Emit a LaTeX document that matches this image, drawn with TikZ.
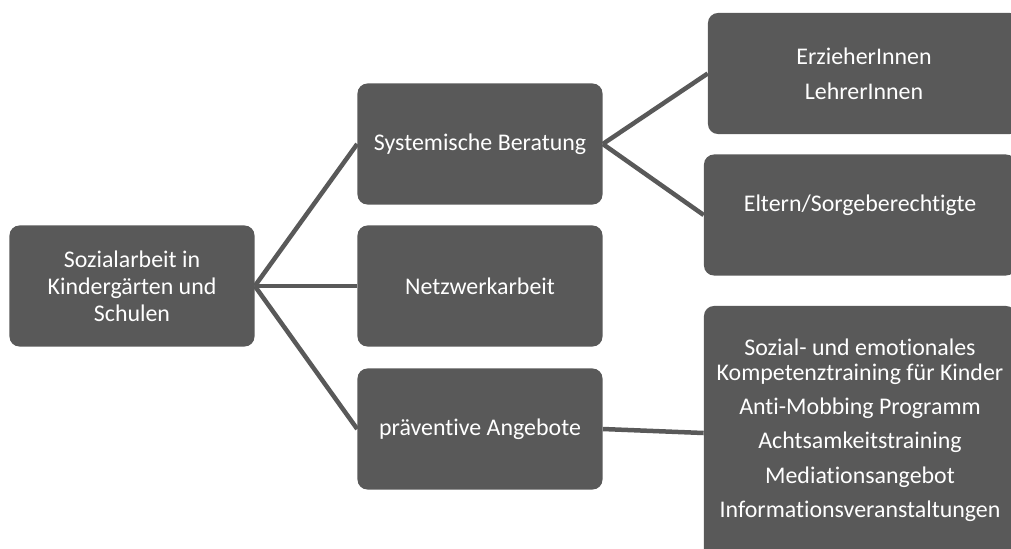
\documentclass[tikz,border=0pt]{standalone}
\usepackage{fontspec}
\setmainfont[Ligatures=NoCommon]{Carlito}
\usepackage{xcolor}
\usepackage{tikz}
\usetikzlibrary{positioning}
\definecolor{boxgray}{HTML}{595959}

\begin{document}
\begin{tikzpicture}[
  x=0.025cm, y=-0.025cm,
  font=\fontsize{17}{19.3}\selectfont,
  box/.style={fill=boxgray,text=white,rounded corners=0.25cm,minimum width=6.125cm,minimum height=3.025cm,align=center,inner sep=2pt},
  leaf/.style={box,minimum width=7.8cm},
  link/.style={draw=boxgray,line width=3.2pt}
]
\useasboundingbox (0,0) rectangle (1011,548);
\clip (0,0) rectangle (1011,548);
% first level
\node[box] (root) at (132,286) {Sozialarbeit in\\Kindergärten und\\Schulen};
\node[box] (sys) at (480,144) {Systemische Beratung};
\node[box] (netz) at (480,286) {Netzwerkarbeit};
\node[box] (prae) at (480,429) {präventive Angebote};
% second level
\node[leaf] (erz) at (864,73.5) {ErzieherInnen\\[0.2cm]LehrerInnen};
\node[leaf,text depth=0.6cm] (elt) at (860,215) {Eltern/Sorgeberechtigte};
\node[leaf,minimum height=6.35cm,text depth=0.25cm] (ang) at (860,433) {Sozial- und emotionales\\[-0.05cm]Kompetenztraining für Kinder\\[0.18cm]Anti-Mobbing Programm\\[0.18cm]Achtsamkeitstraining\\[0.18cm]Mediationsangebot\\[0.18cm]Informationsveranstaltungen};
% connectors
\foreach \c in {sys,netz,prae} {
  \draw[link] (root.east) -- (\c.west);
}
\draw[link] (sys.east) -- (erz.west);
\draw[link] (sys.east) -- (elt.west);
\draw[link] (prae.east) -- (ang.west);
\end{tikzpicture}
\end{document}
